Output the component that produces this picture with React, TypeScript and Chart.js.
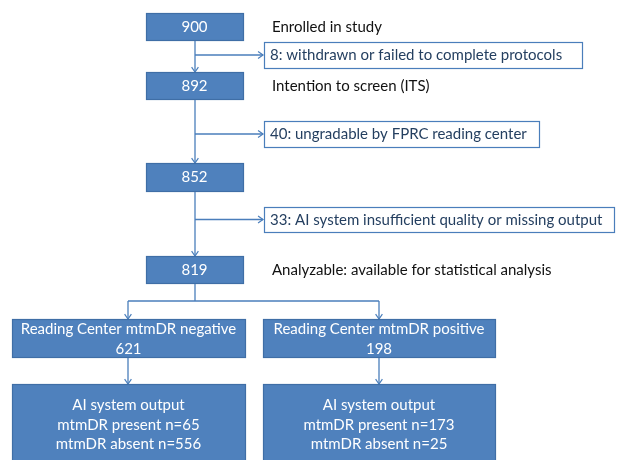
import React, { useEffect, useRef } from "react";
import { Chart, registerables } from "chart.js";

Chart.register(...registerables);

// ---- data ----
const mainCounts = [900, 892, 852, 819];
const mainNotes = [
  "Enrolled in study",
  "Intention to screen (ITS)",
  "",
  "Analyzable: available for statistical analysis",
];
const excludedCounts = [8, 40, 33];
const excludedReasons = [
  "withdrawn or failed to complete protocols",
  "ungradable by FPRC reading center",
  "AI system insufficient quality or missing output",
];
const groupLabels = ["Reading Center mtmDR negative", "Reading Center mtmDR positive"];
const groupCounts = [621, 198];
const aiTitle = "AI system output";
const aiPresent = [65, 173];
const aiAbsent = [556, 25];

// ---- layout (in scale units) ----
const W = 617;
const H = 460;
const mainX: [number, number] = [146, 243];
const mainRows: [number, number][] = [
  [13, 40],
  [72, 99],
  [163, 191],
  [256, 283],
];
const spineX = 195;
const noteX = 272;
const sideLeft = 264;
const sideRight = [582, 539, 614];
const sideRows: [number, number][] = [
  [42, 68],
  [121, 147],
  [207, 232],
];
const splitY = 301;
const colX: [number, number][] = [
  [12, 245],
  [263, 495],
];
const colCenter = [128, 379];
const groupRow: [number, number] = [319, 357];
const aiRow: [number, number] = [384, 472];

const FILL = "#4F81BD";
const EDGE = "#3F6EA6";
const LINE = "#4A7EBB";
const SIDE_TEXT = "#243F60";
const FONT = "Lato, 'Open Sans', sans-serif";

const flowPlugin = {
  id: "flow",
  afterDraw(chart: any) {
    const ctx: CanvasRenderingContext2D = chart.ctx;
    const xs = chart.scales.x;
    const ys = chart.scales.y;
    const px = (v: number) => xs.getPixelForValue(v);
    const py = (v: number) => ys.getPixelForValue(v);

    const box = (x0: number, x1: number, y0: number, y1: number, filled: boolean) => {
      const a = px(x0), b = px(x1), c = py(y0), d = py(y1);
      ctx.save();
      if (filled) {
        ctx.fillStyle = FILL;
        ctx.fillRect(a, c, b - a, d - c);
        ctx.strokeStyle = EDGE;
      } else {
        ctx.fillStyle = "#ffffff";
        ctx.fillRect(a, c, b - a, d - c);
        ctx.strokeStyle = LINE;
      }
      ctx.lineWidth = 1.2;
      ctx.strokeRect(Math.round(a) + 0.5, Math.round(c) + 0.5, Math.round(b - a), Math.round(d - c));
      ctx.restore();
    };

    const line = (x0: number, y0: number, x1: number, y1: number) => {
      ctx.save();
      ctx.strokeStyle = LINE;
      ctx.lineWidth = 1.3;
      ctx.beginPath();
      ctx.moveTo(px(x0), py(y0));
      ctx.lineTo(px(x1), py(y1));
      ctx.stroke();
      ctx.restore();
    };

    const arrow = (x0: number, y0: number, x1: number, y1: number) => {
      line(x0, y0, x1, y1);
      const ex = px(x1), ey = py(y1);
      const ang = Math.atan2(ey - py(y0), ex - px(x0));
      const L = 6, s = 0.6;
      ctx.save();
      ctx.strokeStyle = LINE;
      ctx.lineWidth = 1.2;
      ctx.beginPath();
      ctx.moveTo(ex - L * Math.cos(ang - s), ey - L * Math.sin(ang - s));
      ctx.lineTo(ex, ey);
      ctx.lineTo(ex - L * Math.cos(ang + s), ey - L * Math.sin(ang + s));
      ctx.stroke();
      ctx.restore();
    };

    const text = (s: string, x: number, y: number, color: string, align: CanvasTextAlign) => {
      ctx.save();
      ctx.font = `15px ${FONT}`;
      ctx.fillStyle = color;
      ctx.textAlign = align;
      ctx.textBaseline = "middle";
      ctx.fillText(s, px(x), py(y));
      ctx.restore();
    };

    // spine connectors
    for (let i = 0; i < mainRows.length - 1; i++) {
      arrow(spineX, mainRows[i][1], spineX, mainRows[i + 1][0]);
    }
    // exclusion branches
    sideRows.forEach((r, i) => {
      const ym = (r[0] + r[1]) / 2;
      arrow(spineX, ym, sideLeft - 1, ym);
    });
    // split
    line(spineX, mainRows[3][1], spineX, splitY);
    line(colCenter[0], splitY, colCenter[1], splitY);
    colCenter.forEach((cx) => {
      arrow(cx, splitY, cx, groupRow[0]);
      arrow(cx, groupRow[1], cx, aiRow[0]);
    });

    // main boxes
    mainRows.forEach((r, i) => {
      box(mainX[0], mainX[1], r[0], r[1], true);
      text(String(mainCounts[i]), (mainX[0] + mainX[1]) / 2, (r[0] + r[1]) / 2 + 0.5, "#ffffff", "center");
      if (mainNotes[i]) text(mainNotes[i], noteX, (r[0] + r[1]) / 2 + 0.5, "#111111", "left");
    });

    // exclusion boxes
    sideRows.forEach((r, i) => {
      box(sideLeft, sideRight[i], r[0], r[1], false);
      text(`${excludedCounts[i]}: ${excludedReasons[i]}`, sideLeft + 6, (r[0] + r[1]) / 2 + 0.5, SIDE_TEXT, "left");
    });

    // groups
    colX.forEach((cx, i) => {
      const mid = (cx[0] + cx[1]) / 2;
      box(cx[0], cx[1], groupRow[0], groupRow[1], true);
      text(groupLabels[i], mid, groupRow[0] + 10, "#ffffff", "center");
      text(String(groupCounts[i]), mid, groupRow[0] + 30, "#ffffff", "center");
      box(cx[0], cx[1], aiRow[0], aiRow[1], true);
      text(aiTitle, mid, aiRow[0] + 21, "#ffffff", "center");
      text(`mtmDR present n=${aiPresent[i]}`, mid, aiRow[0] + 41, "#ffffff", "center");
      text(`mtmDR absent n=${aiAbsent[i]}`, mid, aiRow[0] + 60, "#ffffff", "center");
    });
  },
};

export default function App() {
  const ref = useRef<HTMLCanvasElement | null>(null);
  useEffect(() => {
    if (!ref.current) return;
    const chart = new Chart(ref.current, {
      type: "scatter",
      data: { datasets: [{ data: [] }] },
      options: {
        animation: false,
        responsive: false,
        events: [],
        layout: { padding: 0 },
        plugins: { legend: { display: false }, tooltip: { enabled: false } },
        scales: {
          x: { type: "linear", min: 0, max: W, display: false },
          y: { type: "linear", min: 0, max: H, reverse: true, display: false },
        },
      },
      plugins: [flowPlugin],
    });
    return () => chart.destroy();
  }, []);
  return (
    <div style={{ position: "absolute", left: 0, top: 0, width: W, height: H, background: "#fff", overflow: "hidden" }}>
      <canvas ref={ref} width={W} height={H} style={{ display: "block" }} />
    </div>
  );
}
